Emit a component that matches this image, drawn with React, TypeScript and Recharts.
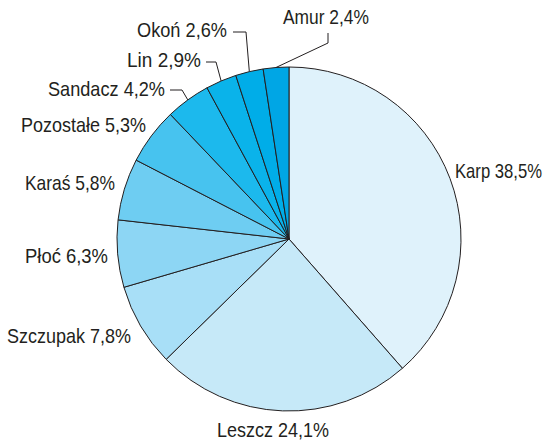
import { PieChart, Pie, Cell } from 'recharts'

const species = ['Karp', 'Leszcz', 'Szczupak', 'Płoć', 'Karaś', 'Pozostałe', 'Sandacz', 'Lin', 'Okoń', 'Amur']
const shares = [38.5, 24.1, 7.8, 6.3, 5.8, 5.3, 4.2, 2.9, 2.6, 2.4]
const labelText = ['Karp 38,5%', 'Leszcz 24,1%', 'Szczupak 7,8%', 'Płoć  6,3%', 'Karaś 5,8%', 'Pozostałe 5,3%', 'Sandacz 4,2%', 'Lin  2,9%', 'Okoń  2,6%', 'Amur 2,4%']
const colors = ['#dff2fb', '#c6e9f8', '#a8dff7', '#8dd6f4', '#6ecdf2', '#47c3ef', '#1cb9ed', '#0ab3ea', '#00ade8', '#00a6e5']

const data = species.map((name, i) => ({ name, value: shares[i], label: labelText[i] }))

// label placement: anchor x, baseline y, drawn width (font in the original is condensed)
const labelLayout: Record<string, { x: number; y: number; w: number; anchor: 'start' | 'end' }> = {
  Karp: { x: 542, y: 178, w: 87, anchor: 'end' },
  Leszcz: { x: 217, y: 437, w: 112, anchor: 'start' },
  Szczupak: { x: 131, y: 343, w: 124, anchor: 'end' },
  'Płoć': { x: 108, y: 263, w: 83, anchor: 'end' },
  'Karaś': { x: 115, y: 190, w: 90, anchor: 'end' },
  'Pozostałe': { x: 146, y: 132, w: 125, anchor: 'end' },
  Sandacz: { x: 165, y: 96, w: 117, anchor: 'end' },
  Lin: { x: 201, y: 67, w: 74, anchor: 'end' },
  'Okoń': { x: 227, y: 37, w: 90, anchor: 'end' },
  Amur: { x: 283, y: 24, w: 86, anchor: 'start' }
}

// leader line bends for the small slices at the top (after the point on the rim)
const leaders: Record<string, number[][]> = {
  Sandacz: [[182, 90], [170, 90]],
  Lin: [[216, 62], [206, 62]],
  'Okoń': [[246, 32], [233, 32]],
  Amur: [[328, 43], [328, 33]]
}

const RAD = Math.PI / 180

const renderLabel = (props: any) => {
  const { cx, cy, outerRadius, midAngle, payload, index } = props
  const name = payload?.name ?? species[index]
  const lay = labelLayout[name]
  if (!lay) return null
  const px = cx + outerRadius * Math.cos(-midAngle * RAD)
  const py = cy + outerRadius * Math.sin(-midAngle * RAD)
  const bend = leaders[name]
  const pts = bend ? [[px, py], ...bend].map(p => p.join(',')).join(' ') : null
  return (
    <g key={name}>
      {pts && <polyline points={pts} fill="none" stroke="#231f20" strokeWidth={1} />}
      <text
        x={lay.x}
        y={lay.y}
        textAnchor={lay.anchor}
        textLength={lay.w}
        lengthAdjust="spacingAndGlyphs"
        fill="#231f20"
        fontSize={21}
        fontFamily="'Liberation Sans', Arial, sans-serif"
      >
        {labelText[index]}
      </text>
    </g>
  )
}

export default function App() {
  return (
    <div style={{ position: 'absolute', left: 0, top: 0, width: 550, height: 440, background: '#fff' }}>
      <style>{'body { margin: 0; overflow: hidden; }'}</style>
      <PieChart width={550} height={440} margin={{ top: 0, right: 0, bottom: 0, left: 0 }}>
        <Pie
          data={data}
          dataKey="value"
          nameKey="name"
          cx={289}
          cy={239}
          outerRadius={172}
          startAngle={90}
          endAngle={-270}
          stroke="#231f20"
          strokeWidth={1}
          label={renderLabel}
          labelLine={false}
          isAnimationActive={false}
        >
          {data.map((d, i) => (
            <Cell key={d.name} fill={colors[i]} />
          ))}
        </Pie>
      </PieChart>
    </div>
  )
}
